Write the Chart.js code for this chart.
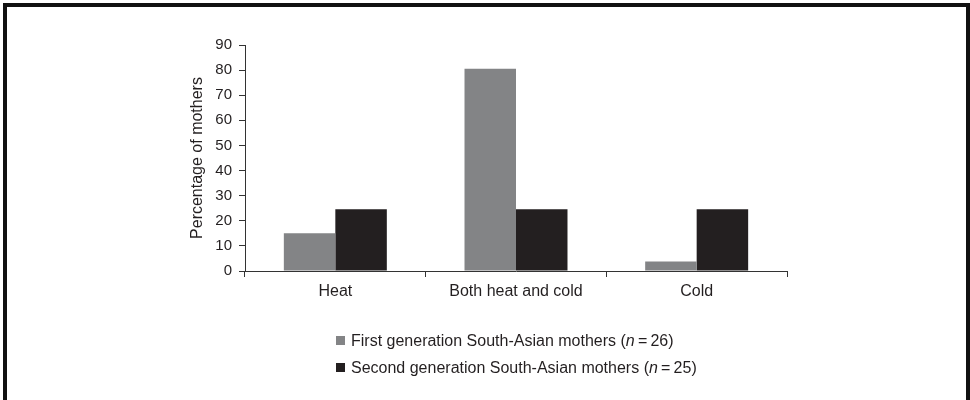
<!DOCTYPE html>
<html>
<head>
<meta charset="utf-8">
<script src="https://cdn.jsdelivr.net/npm/chart.js@4/dist/chart.umd.min.js"></script>
<style>
  html, body { margin: 0; padding: 0; background: #fff; }
  #wrap { position: relative; width: 970px; height: 400px; overflow: hidden; }
  #frame { position: absolute; left: 3px; top: 3px; width: 959px; height: 400px;
           border-left: 4px solid #111; border-top: 4px solid #111; border-right: 4px solid #111; box-sizing: content-box; }
  canvas { position: absolute; left: 0; top: 0; }
  #legend { position: absolute; left: 336px; top: 327px; font-family: "Liberation Sans", Arial, sans-serif;
            font-size: 16px; color: #231f20; }
  .row { height: 27px; line-height: 18px; display: flex; align-items: center; }
  .sw { display: inline-block; width: 9px; height: 9px; margin-right: 6px; }
</style>
</head>
<body>
<div id="wrap">
  <div id="frame"></div>
  <canvas id="c" width="970" height="400"></canvas>
  <div id="legend"></div>
</div>
<script>
const categories = ['Heat', 'Both heat and cold', 'Cold'];
const firstGen = [15, 80.5, 3.8];
const secondGen = [24.6, 24.6, 24.6];
const seriesNames = ['First generation South-Asian mothers', 'Second generation South-Asian mothers'];
const seriesN = [26, 25];
const yTitle = 'Percentage of mothers';
const colors = ['#838486', '#231f20'];

const family = '"Liberation Sans", Arial, sans-serif';
const tickFont = { family: family, size: 15 };
const labelFont = { family: family, size: 16 };

new Chart(document.getElementById('c'), {
  type: 'bar',
  data: {
    labels: categories,
    datasets: [
      { label: seriesNames[0], data: firstGen, backgroundColor: colors[0], borderWidth: 0 },
      { label: seriesNames[1], data: secondGen, backgroundColor: colors[1], borderWidth: 0 }
    ]
  },
  options: {
    responsive: false,
    devicePixelRatio: 1,
    animation: false,
    layout: { padding: { left: 184, top: 45, right: 183, bottom: 0 } },
    plugins: { legend: { display: false }, tooltip: { enabled: false } },
    datasets: { bar: { categoryPercentage: 0.57, barPercentage: 1.0 } },
    scales: {
      x: {
        afterFit: s => { s.height = 129; },
        grid: { display: true, drawOnChartArea: false, tickLength: 6, color: '#333', offset: true },
        border: { display: true, color: '#333', width: 1 },
        ticks: { font: labelFont, color: '#231f20', padding: 5, maxRotation: 0 }
      },
      y: {
        min: 0, max: 90,
        afterFit: s => { s.width = 61; },
        grid: { display: true, drawOnChartArea: false, tickLength: 6, color: '#333' },
        border: { display: true, color: '#333', width: 1 },
        ticks: { font: tickFont, color: '#231f20', padding: 7, stepSize: 10 },
        title: { display: true, text: yTitle, font: labelFont, color: '#231f20', padding: { top: 4, bottom: 0 } }
      }
    }
  }
});

const leg = document.getElementById('legend');
seriesNames.forEach((name, i) => {
  const row = document.createElement('div');
  row.className = 'row';
  const sw = document.createElement('span');
  sw.className = 'sw';
  sw.style.background = colors[i];
  const txt = document.createElement('span');
  txt.innerHTML = name + ' (<i>n</i>&thinsp;=&thinsp;' + seriesN[i] + ')';
  row.appendChild(sw);
  row.appendChild(txt);
  leg.appendChild(row);
});
</script>
</body>
</html>
